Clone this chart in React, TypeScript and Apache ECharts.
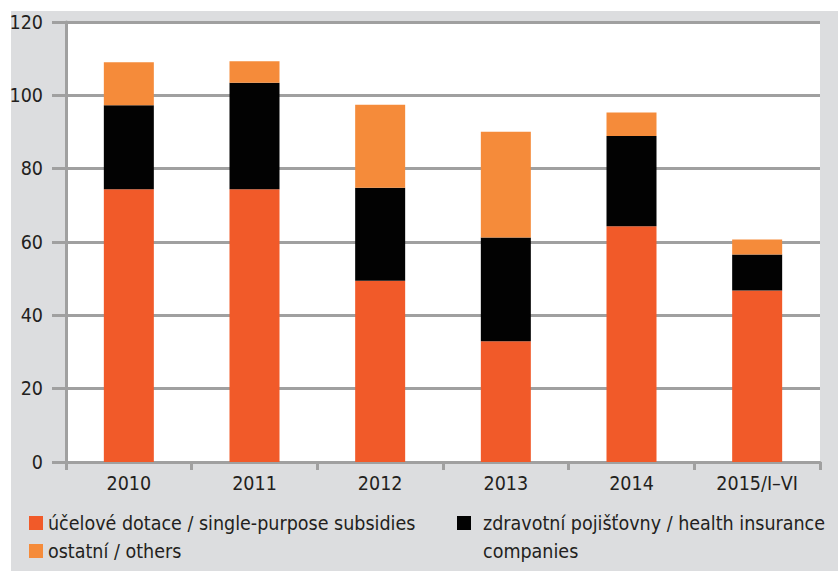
import { useEffect, useRef } from 'react';
import * as echarts from 'echarts';

const categories = ['2010', '2011', '2012', '2013', '2014', '2015/I–VI'];
const subsidies = [74.4, 74.4, 49.4, 32.9, 64.3, 46.8];
const insurance = [22.9, 29.0, 25.4, 28.3, 24.6, 9.8];
const others = [11.7, 5.9, 22.6, 28.9, 6.4, 4.1];

const nameSubsidies = 'účelové dotace / single-purpose subsidies';
const nameInsurance = 'zdravotní pojišťovny / health insurance companies';
const nameOthers = 'ostatní / others';

const FONT = "'Liberation Sans Narrow', 'DejaVu Sans Condensed', 'Roboto Condensed', Roboto, sans-serif";
const TEXT = '#231f20';
const GRID = '#a0a0a0';
const RED = '#f15a29';
const ORANGE = '#f58b3a';
const BLACK = '#020202';
const FS = 19.5;

export default function App() {
  const ref = useRef<HTMLDivElement>(null);
  useEffect(() => {
    if (!ref.current) return;
    const chart = echarts.init(ref.current, undefined, { renderer: 'svg' });
    const legendText = { fontSize: FS, lineHeight: 28, color: TEXT, fontFamily: FONT };
    chart.setOption({
      animation: false,
      backgroundColor: '#ffffff',
      graphic: [
        {
          type: 'rect',
          z: -100,
          shape: { x: 11, y: 11, width: 827, height: 560 },
          style: { fill: '#dcdddf' },
        },
      ],
      grid: {
        left: 66,
        right: 18,
        top: 22,
        bottom: 109,
        show: true,
        backgroundColor: '#ffffff',
        borderWidth: 0,
      },
      xAxis: {
        type: 'category',
        data: categories,
        axisLine: { show: true, lineStyle: { color: GRID, width: 3 } },
        axisTick: { show: true, length: 8, alignWithLabel: false, lineStyle: { color: GRID, width: 3 } },
        axisLabel: { margin: 11, fontSize: FS, color: TEXT, fontFamily: FONT, interval: 0 },
        splitLine: { show: false },
      },
      yAxis: {
        type: 'value',
        min: 0,
        max: 120,
        interval: 20,
        axisLine: { show: true, lineStyle: { color: GRID, width: 3 } },
        axisTick: { show: true, length: 14, lineStyle: { color: GRID, width: 3 } },
        axisLabel: { margin: 23, fontSize: FS, color: TEXT, fontFamily: FONT },
        splitLine: { show: true, lineStyle: { color: GRID, width: 3 } },
      },
      legend: [
        {
          data: [nameSubsidies],
          left: 29,
          top: 509,
          padding: 0,
          icon: 'rect',
          itemWidth: 14,
          itemHeight: 14,
          selectedMode: false,
          textStyle: legendText,
        },
        {
          data: [nameOthers],
          left: 29,
          top: 537,
          padding: 0,
          icon: 'rect',
          itemWidth: 14,
          itemHeight: 14,
          selectedMode: false,
          textStyle: legendText,
        },
        {
          data: [nameInsurance],
          left: 457,
          top: 481,
          padding: 0,
          icon: 'rect',
          itemWidth: 14,
          itemHeight: 14,
          selectedMode: false,
          formatter: () => '{e| }\n{a|zdravotní pojišťovny / health insurance}\n{a|companies}',
          textStyle: {
            ...legendText,
            rich: {
              e: { fontSize: FS, lineHeight: 28, fontFamily: FONT, color: TEXT },
              a: { fontSize: FS, lineHeight: 28, fontFamily: FONT, color: TEXT, padding: [0, 0, 0, 7] },
            },
          },
        },
      ],
      series: [
        {
          name: nameSubsidies,
          type: 'bar',
          stack: 'total',
          barWidth: 50,
          data: subsidies,
          itemStyle: { color: RED },
        },
        {
          name: nameInsurance,
          type: 'bar',
          stack: 'total',
          barWidth: 50,
          data: insurance,
          itemStyle: { color: BLACK },
        },
        {
          name: nameOthers,
          type: 'bar',
          stack: 'total',
          barWidth: 50,
          data: others,
          itemStyle: { color: ORANGE },
        },
      ],
    });
    return () => chart.dispose();
  }, []);
  return (
    <div
      ref={ref}
      style={{ position: 'fixed', left: 0, top: 0, width: 838, height: 571 }}
    />
  );
}
